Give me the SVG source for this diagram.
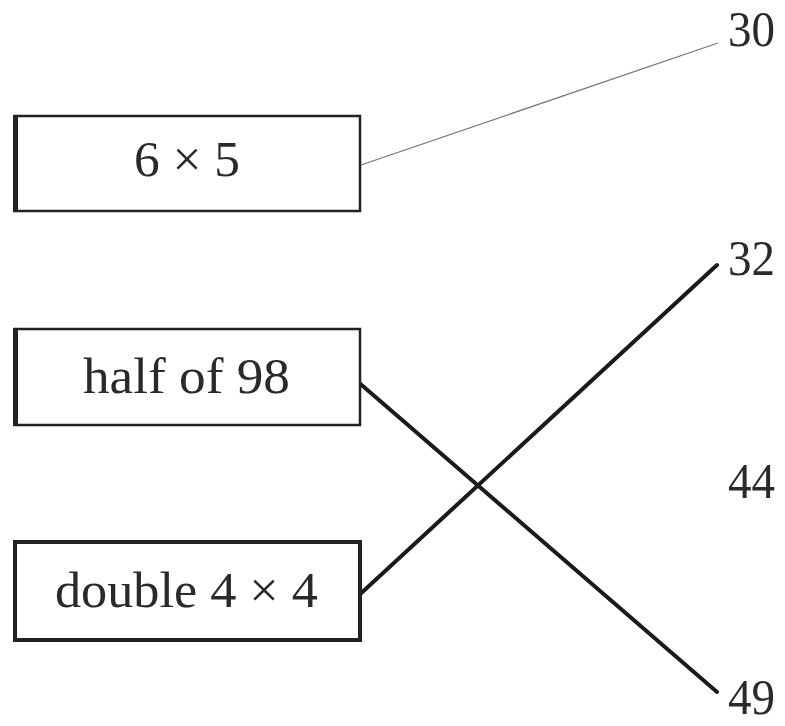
<svg xmlns="http://www.w3.org/2000/svg" width="785" height="726" viewBox="0 0 785 726">
<style>
.box{fill:#fff;stroke:#222;stroke-width:2.5}
.lb{fill:#222}
.t{font-family:"Liberation Serif",serif;font-size:50px;fill:#2a2a2a}
.thick{stroke:#1a1a1a;stroke-width:4;fill:none;stroke-linecap:round}
.thin{stroke:#777;stroke-width:1.3;fill:none}
</style>
<rect width="785" height="726" fill="#fff"/>
<g id="connectors">
<line class="thin" x1="361" y1="165" x2="718" y2="43"/>
<line class="thick" x1="357" y1="381" x2="717" y2="692"/>
<line class="thick" x1="357" y1="597" x2="717" y2="265"/>
</g>
<g id="box1">
<rect class="box" x="15" y="116" width="345" height="95"/>
<rect class="lb" x="13" y="115" width="5" height="97"/>
<text class="t" x="187" y="176" text-anchor="middle" textLength="106" lengthAdjust="spacingAndGlyphs">6 × 5</text>
</g>
<g id="box2">
<rect class="box" x="15" y="329" width="345" height="96"/>
<rect class="lb" x="13" y="328" width="5" height="98"/>
<text class="t" x="83" y="393" textLength="207" lengthAdjust="spacingAndGlyphs">half of 98</text>
</g>
<g id="box3">
<rect class="box" x="15" y="542" width="345" height="98" style="stroke-width:4"/>
<text class="t" x="55" y="607" textLength="263" lengthAdjust="spacingAndGlyphs">double 4 × 4</text>
</g>
<g id="n30"><text class="t" x="728" y="46" textLength="47" lengthAdjust="spacingAndGlyphs">30</text></g>
<g id="n32"><text class="t" x="728" y="275" textLength="47" lengthAdjust="spacingAndGlyphs">32</text></g>
<g id="n44"><text class="t" x="728" y="498" textLength="47" lengthAdjust="spacingAndGlyphs">44</text></g>
<g id="n49"><text class="t" x="728" y="714" textLength="47" lengthAdjust="spacingAndGlyphs">49</text></g>
</svg>
